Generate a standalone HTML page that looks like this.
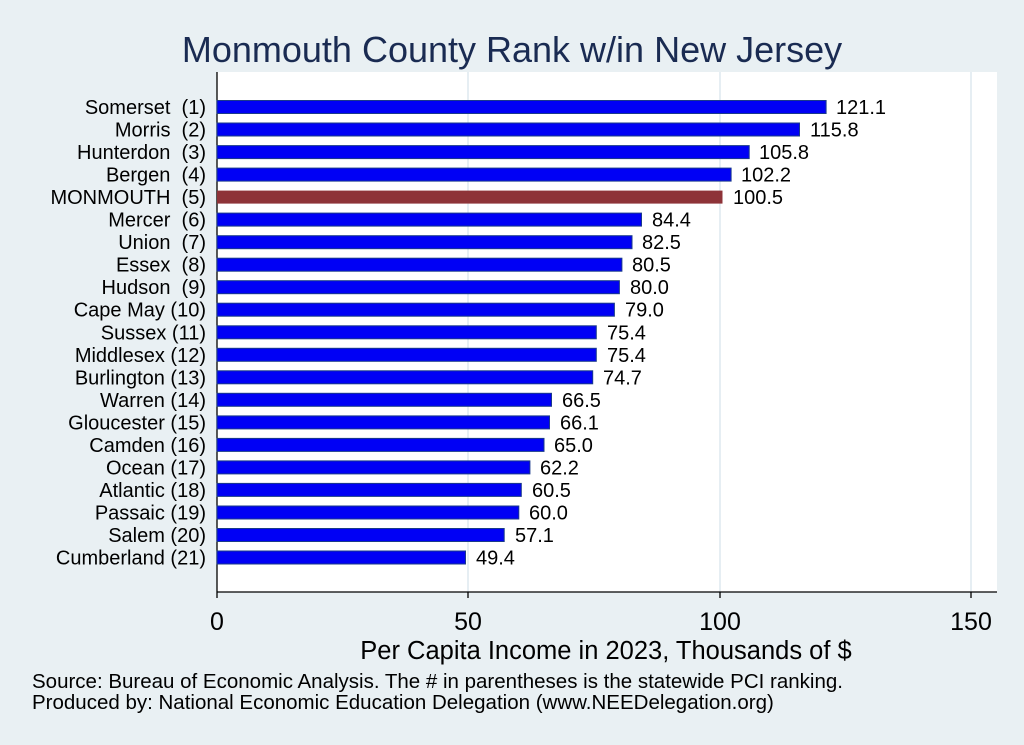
<!DOCTYPE html>
<html><head><meta charset="utf-8"><style>body{margin:0;background:#e9f0f3}svg{display:block}text{font-family:"Liberation Sans",sans-serif;white-space:pre}</style></head><body>
<svg width="1024" height="745" viewBox="0 0 1024 745" xmlns="http://www.w3.org/2000/svg" xml:space="preserve">
<rect width="1024" height="745" fill="#e9f0f3"/>
<text x="512" y="62" font-size="36" fill="#1a2b52" text-anchor="middle">Monmouth County Rank w/in New Jersey</text>
<rect x="217" y="72" width="780" height="520" fill="#fff"/>
<g stroke="#e6eef3" stroke-width="2"><line x1="468" y1="72" x2="468" y2="592"/><line x1="720" y1="72" x2="720" y2="592"/><line x1="971" y1="72" x2="971" y2="592"/></g>
<line x1="217" y1="72" x2="217" y2="598" stroke="#000" stroke-width="1.3"/>
<line x1="217" y1="592" x2="997" y2="592" stroke="#000" stroke-width="1.3"/>
<g stroke="#000" stroke-width="1.3"><line x1="468" y1="592" x2="468" y2="598"/><line x1="720" y1="592" x2="720" y2="598"/><line x1="971" y1="592" x2="971" y2="598"/></g>
<g font-size="25" text-anchor="middle"><text x="217" y="630">0</text><text x="468" y="630">50</text><text x="720" y="630">100</text><text x="971" y="630">150</text></g>
<text x="606" y="659" font-size="25.5" text-anchor="middle">Per Capita Income in 2023, Thousands of $</text>
<text x="32" y="688" font-size="20.5">Source: Bureau of Economic Analysis. The # in parentheses is the statewide PCI ranking.</text>
<text x="32" y="709" font-size="20.5">Produced by: National Economic Education Delegation (www.NEEDelegation.org)</text>
<g font-size="20">
<rect x="217" y="100.5" width="609.1" height="13" fill="#0000f5" stroke="#1a3a8a" stroke-width="1"/><text x="206" y="114" text-anchor="end">Somerset  (1)</text><text x="836" y="114">121.1</text>
<rect x="217" y="123.0" width="582.5" height="13" fill="#0000f5" stroke="#1a3a8a" stroke-width="1"/><text x="206" y="136.5" text-anchor="end">Morris  (2)</text><text x="810" y="136.5">115.8</text>
<rect x="217" y="145.6" width="532.2" height="13" fill="#0000f5" stroke="#1a3a8a" stroke-width="1"/><text x="206" y="159.1" text-anchor="end">Hunterdon  (3)</text><text x="759" y="159.1">105.8</text>
<rect x="217" y="168.1" width="514.1" height="13" fill="#0000f5" stroke="#1a3a8a" stroke-width="1"/><text x="206" y="181.6" text-anchor="end">Bergen  (4)</text><text x="741" y="181.6">102.2</text>
<rect x="217" y="190.6" width="505.5" height="13" fill="#8e3338"/><text x="206" y="204.1" text-anchor="end">MONMOUTH  (5)</text><text x="733" y="204.1">100.5</text>
<rect x="217" y="213.1" width="424.5" height="13" fill="#0000f5" stroke="#1a3a8a" stroke-width="1"/><text x="206" y="226.6" text-anchor="end">Mercer  (6)</text><text x="652" y="226.6">84.4</text>
<rect x="217" y="235.7" width="415.0" height="13" fill="#0000f5" stroke="#1a3a8a" stroke-width="1"/><text x="206" y="249.2" text-anchor="end">Union  (7)</text><text x="642" y="249.2">82.5</text>
<rect x="217" y="258.2" width="404.9" height="13" fill="#0000f5" stroke="#1a3a8a" stroke-width="1"/><text x="206" y="271.7" text-anchor="end">Essex  (8)</text><text x="632" y="271.7">80.5</text>
<rect x="217" y="280.7" width="402.4" height="13" fill="#0000f5" stroke="#1a3a8a" stroke-width="1"/><text x="206" y="294.2" text-anchor="end">Hudson  (9)</text><text x="630" y="294.2">80.0</text>
<rect x="217" y="303.2" width="397.4" height="13" fill="#0000f5" stroke="#1a3a8a" stroke-width="1"/><text x="206" y="316.7" text-anchor="end">Cape May (10)</text><text x="625" y="316.7">79.0</text>
<rect x="217" y="325.8" width="379.3" height="13" fill="#0000f5" stroke="#1a3a8a" stroke-width="1"/><text x="206" y="339.3" text-anchor="end">Sussex (11)</text><text x="607" y="339.3">75.4</text>
<rect x="217" y="348.3" width="379.3" height="13" fill="#0000f5" stroke="#1a3a8a" stroke-width="1"/><text x="206" y="361.8" text-anchor="end">Middlesex (12)</text><text x="607" y="361.8">75.4</text>
<rect x="217" y="370.8" width="375.7" height="13" fill="#0000f5" stroke="#1a3a8a" stroke-width="1"/><text x="206" y="384.3" text-anchor="end">Burlington (13)</text><text x="603" y="384.3">74.7</text>
<rect x="217" y="393.3" width="334.5" height="13" fill="#0000f5" stroke="#1a3a8a" stroke-width="1"/><text x="206" y="406.8" text-anchor="end">Warren (14)</text><text x="562" y="406.8">66.5</text>
<rect x="217" y="415.9" width="332.5" height="13" fill="#0000f5" stroke="#1a3a8a" stroke-width="1"/><text x="206" y="429.4" text-anchor="end">Gloucester (15)</text><text x="560" y="429.4">66.1</text>
<rect x="217" y="438.4" width="327.0" height="13" fill="#0000f5" stroke="#1a3a8a" stroke-width="1"/><text x="206" y="451.9" text-anchor="end">Camden (16)</text><text x="554" y="451.9">65.0</text>
<rect x="217" y="460.9" width="312.9" height="13" fill="#0000f5" stroke="#1a3a8a" stroke-width="1"/><text x="206" y="474.4" text-anchor="end">Ocean (17)</text><text x="540" y="474.4">62.2</text>
<rect x="217" y="483.4" width="304.3" height="13" fill="#0000f5" stroke="#1a3a8a" stroke-width="1"/><text x="206" y="496.9" text-anchor="end">Atlantic (18)</text><text x="532" y="496.9">60.5</text>
<rect x="217" y="506.0" width="301.8" height="13" fill="#0000f5" stroke="#1a3a8a" stroke-width="1"/><text x="206" y="519.5" text-anchor="end">Passaic (19)</text><text x="529" y="519.5">60.0</text>
<rect x="217" y="528.5" width="287.2" height="13" fill="#0000f5" stroke="#1a3a8a" stroke-width="1"/><text x="206" y="542.0" text-anchor="end">Salem (20)</text><text x="515" y="542.0">57.1</text>
<rect x="217" y="551.0" width="248.5" height="13" fill="#0000f5" stroke="#1a3a8a" stroke-width="1"/><text x="206" y="564.5" text-anchor="end">Cumberland (21)</text><text x="476" y="564.5">49.4</text>
</g>
</svg>
</body></html>
